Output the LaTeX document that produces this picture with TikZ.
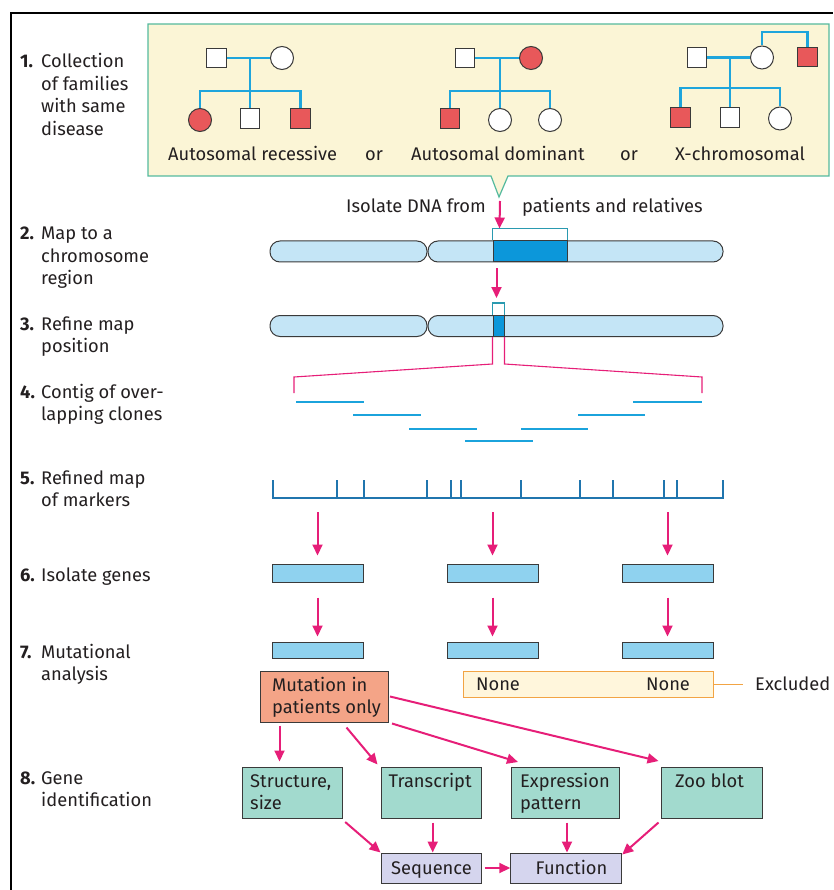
\documentclass[tikz,border=0pt]{standalone}
\usepackage{fontspec}
\setmainfont{Fira Sans}
\usetikzlibrary{arrows.meta,calc}

\definecolor{ink}{HTML}{231F20}
\definecolor{outline}{HTML}{3A3A3A}
\definecolor{pinkarrow}{HTML}{E61E78}
\definecolor{pedblue}{HTML}{1EA5DC}
\definecolor{affred}{HTML}{E8585A}
\definecolor{boxcream}{HTML}{FBF5D6}
\definecolor{boxteal}{HTML}{55BA9E}
\definecolor{chromfill}{HTML}{C4E5F6}
\definecolor{bandblue}{HTML}{0C97DA}
\definecolor{brackteal}{HTML}{2A9AB0}
\definecolor{cloneblue}{HTML}{1BA3DC}
\definecolor{markblue}{HTML}{2075AE}
\definecolor{genefill}{HTML}{8FD2EF}
\definecolor{mutfill}{HTML}{F4A487}
\definecolor{nonefill}{HTML}{FFF6DC}
\definecolor{noneedge}{HTML}{F2A444}
\definecolor{idfill}{HTML}{A2DACE}
\definecolor{endfill}{HTML}{D5D5EE}

\newcommand\txtsize{\fontsize{18.3}{22.5}\selectfont}

\tikzset{
  every node/.style={font=\txtsize, text=ink},
  ped/.style={draw=outline, line width=1pt, inner sep=0, fill=white},
  sq/.style={ped, rectangle, minimum size=19.5pt},
  ci/.style={ped, circle, minimum size=23pt},
  aff/.style={fill=affred},
  pedline/.style={draw=pedblue, line width=2.2pt},
  flow/.style={draw=pinkarrow, line width=2pt, -{Triangle[length=11pt,width=10pt]}},
  fan/.style={draw=pinkarrow, line width=1.1pt},
  chrom/.style={draw=outline, fill=chromfill, line width=1pt, rounded corners=10pt, minimum height=21pt, inner sep=0},
  band/.style={draw=outline, fill=bandblue, line width=1pt, minimum height=21pt, inner sep=0},
  brack/.style={draw=brackteal, line width=1.2pt},
  clone/.style={draw=cloneblue, line width=2.5pt},
  marker/.style={draw=markblue, line width=2.5pt},
  gene/.style={draw=outline, fill=genefill, line width=1pt, minimum width=91pt, inner sep=0},
  flat/.style={draw=outline, line width=1pt, inner sep=0},
  lbl/.style={anchor=base west, inner sep=0},
}

\begin{document}
\begin{tikzpicture}[x=1pt,y=-1pt]
\useasboundingbox (0,0) rectangle (833,890);

% page frame
\draw[line width=2pt] (11,890) -- (11,13) -- (833,13);

% step labels
\foreach \n/\yy/\t in {1/68/{Collection\\of families\\with same\\disease},
                        2/240/{Map to a\\chromosome\\region},
                        3/330/{Refine map\\position},
                        4/398/{Contig of over-\\lapping clones},
                        5/484/{Refined map\\of markers},
                        6/581/{Isolate genes},
                        7/658/{Mutational\\analysis},
                        8/784/{Gene\\identification}}{
  \node[lbl, font=\txtsize\bfseries] (num\n) at (20,\yy) {\n.};
  \node[lbl] (step\n) at (41,\yy) {\parbox[t]{150pt}{\raggedright\txtsize \t}};
}

% family panel with pointer
\coordinate (tip) at (499,197);
\draw[draw=boxteal, fill=boxcream, line width=1.2pt]
  (148,24) -- (829,24) -- (829,176) -- (508,176) -- (tip) -- (491,176) -- (148,176) -- cycle;

% autosomal recessive pedigree
\node[sq] (f1) at (216.5,58) {};
\node[ci] (m1) at (282,58) {};
\node[ci, aff] (c11) at (200,120) {};
\node[sq] (c12) at (250,118.5) {};
\node[sq, aff] (c13) at (300.5,118.5) {};
\coordinate (j1) at (250,58);
\coordinate (s1) at (250,91);
\draw[pedline] (f1.east) -- (m1.west);
\draw[pedline] (j1) -- (c12.north);
\draw[pedline] (c11.north) |- (s1) -| (c13.north);

% autosomal dominant pedigree
\node[sq] (f2) at (465,58) {};
\node[ci, aff] (m2) at (531,58) {};
\node[sq, aff] (c21) at (450,118.5) {};
\node[ci] (c22) at (500,120) {};
\node[ci] (c23) at (550,120) {};
\coordinate (j2) at (500,58);
\coordinate (s2) at (500,91);
\draw[pedline] (f2.east) -- (m2.west);
\draw[pedline] (j2) -- (c22.north);
\draw[pedline] (c21.north) |- (s2) -| (c23.north);

% X-linked pedigree
\node[sq] (f3) at (697,57.5) {};
\node[ci] (m3) at (762,57.5) {};
\node[sq, aff] (u3) at (807.5,57) {};
\node[sq, aff] (c31) at (680.5,117.5) {};
\node[sq] (c32) at (730,117.5) {};
\node[ci] (c33) at (780,118.5) {};
\coordinate (j3) at (730,57.5);
\coordinate (s3) at (730,88);
\coordinate (k3) at (762,32);
\draw[pedline] (f3.east) -- (m3.west);
\draw[pedline] (m3.north) -- (k3) -| (u3.north);
\draw[pedline] (j3) -- (c32.north);
\draw[pedline] (c31.north) |- (s3) -| (c33.north);

\node[lbl] (ar) at (168,161) {Autosomal recessive};
\node[lbl] (or1) at (365,161) {or};
\node[lbl] (ad) at (411,161) {Autosomal dominant};
\node[lbl] (or2) at (620,161) {or};
\node[lbl] (xc) at (675,161) {X-chromosomal};

% DNA isolation
\node[lbl, anchor=base east] (iso) at (486,213) {Isolate DNA from};
\node[lbl] (pat) at (522,213) {patients and relatives};

% chromosome, coarse map
\node[chrom, minimum width=157pt] (chL1) at (348.5,251.5) {};
\node[chrom, minimum width=295pt] (chR1) at (575.5,251.5) {};
\node[band, minimum width=74pt] (band1) at (530,251.5) {};
\draw[brack] (band1.north west) -- ++(0,-12) -| (band1.north east);
\draw[flow] ($(tip)+(1,4)$) -- ($(band1.north west)+(7,-12)$);

% chromosome, refined position
\node[chrom, minimum width=157pt] (chL2) at (348.5,326) {};
\node[chrom, minimum width=295pt] (chR2) at (575.5,326) {};
\node[band, minimum width=11pt] (band2) at (498.5,326) {};
\draw[brack] (band2.north west) -- ++(0,-12) -| (band2.north east);
\draw[flow] ($(band1.south west)+(4,6)$) -- ($(band2.north west)+(4,-17)$);

% zoom-out fan
\coordinate (fanL) at (294,393);
\coordinate (fanR) at (702,393);
\draw[fan] (band2.south west) -- ++(0,27) -- (294,377) -- (fanL);
\draw[fan] (band2.south east) -- ++(0,27) -- (702,377) -- (fanR);

% contig of overlapping clones
\draw[clone] (296,402) -- (364,402);
\draw[clone] (633,402) -- (702,402);
\draw[clone] (353,415) -- (421,415);
\draw[clone] (578,415) -- (645,415);
\draw[clone] (409,429) -- (477,429);
\draw[clone] (521,429) -- (588,429);
\draw[clone] (465,441) -- (533,441);

% marker map
\draw[marker] (273,480) -- (273,498) -- (723,498) -- (723,480);
\foreach \mx in {337,364,427,451,461,521,580,613,664,677}
  \draw[marker] (\mx,498) -- (\mx,480);

% candidate genes
\foreach \i/\gx in {1/317.5,2/492.5,3/667.5}{
  \node[gene, minimum height=18pt] (ga\i) at (\gx,573) {};
  \node[gene, minimum height=16pt] (gb\i) at (\gx,650) {};
  \coordinate (mk\i) at (\gx,512);
  \draw[flow] (mk\i) -- ($(ga\i.north)+(0,-8)$);
  \draw[flow] ($(ga\i.south)+(0,15)$) -- ($(gb\i.north)+(0,-5)$);
}

% mutation screening outcome
\node[flat, fill=mutfill, minimum width=128.5pt, minimum height=51pt] (mut) at (324.25,696.5) {};
\node[lbl] (mutT) at (272,691) {\parbox[t]{120pt}{\raggedright\txtsize Mutation in\\patients only}};
\node[draw=noneedge, fill=nonefill, line width=1pt, minimum width=250.5pt, minimum height=26pt, inner sep=0] (none) at (588.25,684) {};
\node[lbl, anchor=base] (n1) at (498,690) {None};
\node[lbl, anchor=base] (n2) at (668,690) {None};
\node[lbl] (exc) at (755,690) {Excluded};
\draw[draw=noneedge, line width=1pt] (none.east) -- ($(exc.base west)+(-12,-6)$);

% gene identification
\node[flat, fill=idfill, minimum width=100pt, minimum height=51pt] (st) at (292.7,792.5) {};
\node[flat, fill=idfill, minimum width=100pt, minimum height=51pt] (tr) at (431,792.5) {};
\node[flat, fill=idfill, minimum width=108pt, minimum height=51pt] (ex) at (565,792.5) {};
\node[flat, fill=idfill, minimum width=100.5pt, minimum height=51pt] (zo) at (711.75,792.5) {};
\node[lbl] (stT) at (250,787) {\parbox[t]{90pt}{\raggedright\txtsize Structure,\\size}};
\node[lbl] (trT) at (388.5,787) {Transcript};
\node[lbl] (exT) at (520,787) {\parbox[t]{95pt}{\raggedright\txtsize Expression\\pattern}};
\node[lbl] (zoT) at (675,787) {Zoo blot};

\node[flat, fill=endfill, minimum width=100pt, minimum height=30pt] (seq) at (431,868) {};
\node[flat, fill=endfill, minimum width=110.5pt, minimum height=30pt] (fun) at (566,868) {};
\node[lbl, anchor=base] (seqT) at (431.5,874) {Sequence};
\node[lbl, anchor=base] (funT) at (571.5,874) {Function};

\draw[flow] ($(mut.south west)+(20,3)$) -- ($(st.north west)+(37.3,-5)$);
\draw[flow] ($(mut.south west)+(87,5)$) -- ($(tr.north west)+(-3,-2)$);
\draw[flow] ($(mut.south east)+(3,1)$) -- ($(ex.north west)+(7.5,-4.5)$);
\draw[flow] ($(mut.east)+(1,0)$) -- ($(zo.north west)+(-2.5,-5.5)$);
\draw[flow] ($(st.south east)+(2,3.5)$) -- (seq.north west);
\draw[flow] ($(tr.south)+(1.7,4)$) -- ($(seq.north)+(1.7,0)$);
\draw[flow] ($(ex.south)+(2,4)$) -- ($(fun.north)+(1,0)$);
\draw[flow] ($(zo.south west)+(-2.5,4)$) -- ($(fun.north east)+(0.5,2)$);
\draw[flow] ($(seq.east)+(3,0)$) -- (fun.west);
\end{tikzpicture}
\end{document}
